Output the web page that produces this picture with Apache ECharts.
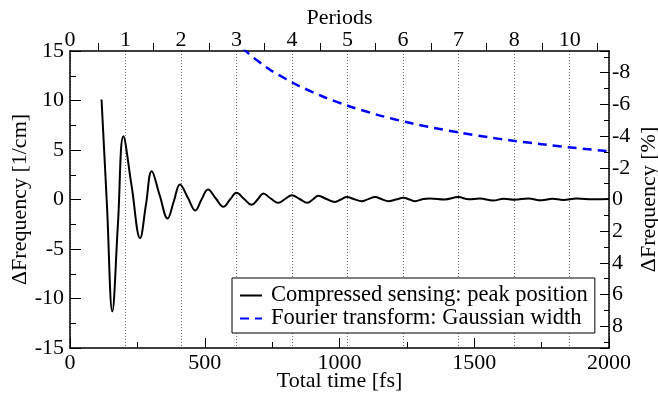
<!DOCTYPE html>
<html>
<head>
<meta charset="utf-8">
<script src="https://cdn.jsdelivr.net/npm/echarts@6/dist/echarts.min.js"></script>
<style>
html, body { margin: 0; padding: 0; background: #fff; }
#chart { width: 658px; height: 393px; }
</style>
</head>
<body>
<div id="chart"></div>
<script>
// Compressed sensing: peak position  [1/cm] vs total time [fs]
const peakTime = [117, 137, 157, 178, 198, 229, 260, 282, 303, 333, 362, 385, 408, 437, 465, 488,
    512, 541, 569, 594, 618, 646, 674, 696, 717, 745, 773, 798, 823, 852, 881, 901, 921, 952,
    983, 1005, 1027, 1055, 1082, 1107, 1132, 1157, 1181, 1210, 1237, 1260, 1280, 1310, 1336,
    1390, 1441, 1480, 1520, 1570, 1610, 1650, 1700, 1750, 1790, 1830, 1880, 1940, 2000];
const peakShift = [10.1, -0.5, -11.3, -2.4, 6.4, 1.3, -3.9, -0.5, 2.86, 0.4, -1.92, -0.2, 1.52, 0.2, -1.11, 0,
    1.01, 0.1, -0.74, 0, 0.67, 0.05, -0.54, 0, 0.6, 0.1, -0.34, 0.05, 0.44, 0.05, -0.34, 0, 0.37, 0.05,
    -0.24, 0, 0.24, 0.03, -0.17, 0.04, 0.24, 0.03, -0.17, 0, 0.17, 0, -0.17, 0.05, 0.1,
    0, 0.24, 0.02, 0.1, -0.1, 0.08, -0.02, 0.1, -0.08, 0.08, -0.05, 0.1, 0.02, 0.05];

// Fourier transform: Gaussian width  [%] (right axis, inverted)
const widthTime = [600, 700, 800, 900, 1000, 1100, 1200, 1300, 1400, 1500, 1600, 1700, 1800, 1900, 2000];
const widthShift = [-10.2, -8.7, -7.62, -6.78, -6.1, -5.55, -5.08, -4.69, -4.36, -4.07, -3.81, -3.59, -3.39, -3.21, -3.05];

// top axis: oscillation periods (the figure labels the 9th one "10")
const periodLabels = ['0', '1', '2', '3', '4', '5', '6', '7', '8', '10'];
const periodFs = 206;

const FONT = "'Liberation Serif', 'Times New Roman', serif";

function pairs(xs, ys) {
    return xs.map((x, i) => [x, ys[i]]);
}

const chart = echarts.init(document.getElementById('chart'));

const labelStyle = { color: '#000', fontFamily: FONT, fontSize: 22 };
const nameStyle = { color: '#000', fontFamily: FONT, fontSize: 22 };
const axisLine = { show: true, onZero: false, lineStyle: { color: '#000', width: 1.5 } };
const plain = v => String(v);

chart.setOption({
    animation: false,
    backgroundColor: '#fff',
    grid: { left: 70, right: 49, top: 51, bottom: 45, containLabel: false, outerBoundsMode: 'none' },
    legend: {
        left: 232,
        top: 278,
        orient: 'vertical',
        backgroundColor: '#fff',
        borderColor: '#000',
        borderWidth: 1,
        borderRadius: 0,
        padding: [6, 7, 3, 7],
        itemGap: 0,
        itemWidth: 22,
        itemHeight: 14,
        itemStyle: { opacity: 0 },
        textStyle: { color: '#000', fontFamily: FONT, fontSize: 22.5, lineHeight: 22, padding: [0, 0, 0, 4] },
        data: ['Compressed sensing: peak position', 'Fourier transform: Gaussian width']
    },
    xAxis: [
        {
            type: 'value',
            position: 'bottom',
            min: 0,
            max: 2000,
            interval: 500,
            name: 'Total time [fs]',
            nameLocation: 'middle',
            nameGap: 22,
            nameMoveOverlap: false,
            nameTextStyle: nameStyle,
            axisLine: axisLine,
            axisTick: { show: true, inside: true, length: 10, lineStyle: { color: '#000', width: 1 } },
            minorTick: { show: true, splitNumber: 2, length: 6, lineStyle: { color: '#000', width: 1 } },
            axisLabel: Object.assign({ margin: 4, formatter: plain }, labelStyle),
            splitLine: { show: false }
        },
        {
            type: 'value',
            position: 'top',
            min: 0,
            max: 2000 / periodFs,
            interval: 1,
            name: 'Periods',
            nameLocation: 'middle',
            nameGap: 22,
            nameMoveOverlap: false,
            nameTextStyle: nameStyle,
            axisLine: axisLine,
            axisTick: { show: false },
            minorTick: { show: true, splitNumber: 2, length: 8, lineStyle: { color: '#000', width: 1 } },
            axisLabel: Object.assign({
                margin: 0,
                showMaxLabel: false,
                formatter: v => {
                    const i = Math.round(v);
                    return Math.abs(v - i) < 1e-6 ? (periodLabels[i] || '') : '';
                }
            }, labelStyle),
            splitLine: { show: true, lineStyle: { color: '#666', width: 1, type: [1, 2] } }
        }
    ],
    yAxis: [
        {
            type: 'value',
            position: 'left',
            min: -15,
            max: 15,
            interval: 5,
            name: 'ΔFrequency [1/cm]',
            nameLocation: 'middle',
            nameGap: 39,
            nameRotate: 90,
            nameMoveOverlap: false,
            nameTextStyle: nameStyle,
            axisLine: axisLine,
            axisTick: { show: true, inside: true, length: 11, lineStyle: { color: '#000', width: 1 } },
            minorTick: { show: true, splitNumber: 2, length: 6, lineStyle: { color: '#000', width: 1 } },
            axisLabel: Object.assign({ margin: 6, formatter: plain }, labelStyle),
            splitLine: { show: false }
        },
        {
            type: 'value',
            position: 'right',
            min: -9.37,
            max: 9.37,
            splitNumber: 9,
            inverse: true,
            name: 'ΔFrequency [%]',
            nameLocation: 'middle',
            nameGap: 29,
            nameRotate: 90,
            nameMoveOverlap: false,
            nameTextStyle: nameStyle,
            axisLine: axisLine,
            axisTick: { show: true, inside: true, length: 9, lineStyle: { color: '#000', width: 1 } },
            minorTick: { show: true, splitNumber: 2, length: 5, lineStyle: { color: '#000', width: 1 } },
            axisLabel: Object.assign({ margin: 3, showMinLabel: false, showMaxLabel: false, formatter: plain }, labelStyle),
            splitLine: { show: false }
        }
    ],
    series: [
        {
            name: 'Compressed sensing: peak position',
            type: 'line',
            xAxisIndex: 0,
            yAxisIndex: 0,
            smooth: 0.4,
            symbol: 'none',
            clip: true,
            lineStyle: { color: '#000', width: 2 },
            itemStyle: { color: '#000' },
            data: pairs(peakTime, peakShift)
        },
        {
            name: 'Fourier transform: Gaussian width',
            type: 'line',
            xAxisIndex: 0,
            yAxisIndex: 1,
            smooth: true,
            symbol: 'none',
            clip: true,
            lineStyle: { color: '#0000ff', width: 2.5, type: [9, 6] },
            itemStyle: { color: '#0000ff' },
            data: pairs(widthTime, widthShift)
        }
    ]
});
</script>
</body>
</html>
